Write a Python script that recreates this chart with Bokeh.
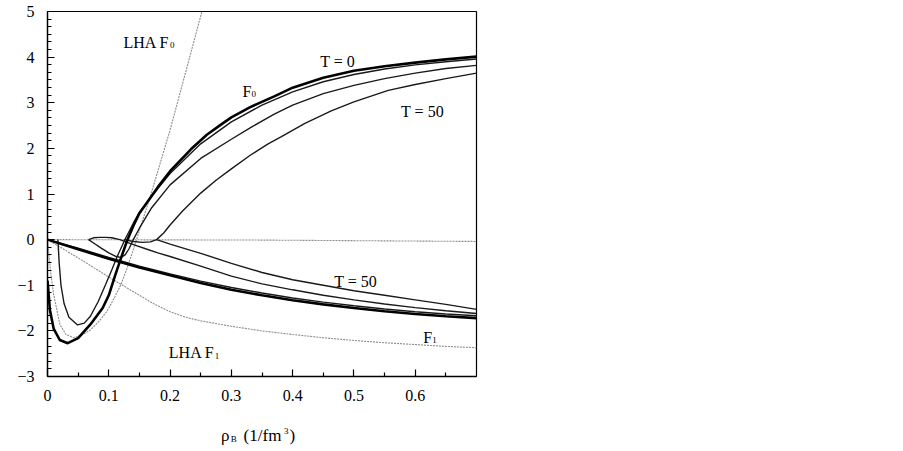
from bokeh.plotting import figure
from bokeh.models import Range1d, FixedTicker
from bokeh.layouts import column
from bokeh.core.properties import value
from bokeh.embed import file_html
from bokeh.resources import INLINE

# ---------------- data ----------------
# F0, T = 0 (thick)
rho_f0_t0 = [0.0, 0.004, 0.01, 0.02, 0.033, 0.05, 0.07, 0.09, 0.1, 0.11, 0.12, 0.13, 0.14, 0.15,
             0.18, 0.2, 0.234, 0.26, 0.283, 0.3, 0.33, 0.37, 0.4, 0.45, 0.5, 0.55, 0.6, 0.65, 0.7]
f0_t0 = [-0.9, -1.55, -1.95, -2.2, -2.27, -2.16, -1.86, -1.5, -1.22, -0.8, -0.4, -0.02, 0.3, 0.58,
         1.15, 1.5, 1.98, 2.3, 2.52, 2.68, 2.9, 3.14, 3.33, 3.55, 3.7, 3.8, 3.88, 3.95, 4.01]
# F0, second temperature
rho_f0_t2 = [0.017, 0.019, 0.022, 0.027, 0.035, 0.049, 0.06, 0.07, 0.083, 0.095, 0.105, 0.115, 0.127,
             0.14, 0.15, 0.18, 0.2, 0.25, 0.3, 0.35, 0.4, 0.45, 0.5, 0.55, 0.6, 0.65, 0.7]
f0_t2 = [0.0, -0.5, -1.0, -1.4, -1.7, -1.87, -1.83, -1.68, -1.35, -0.98, -0.66, -0.33, 0.02,
         0.36, 0.6, 1.12, 1.45, 2.1, 2.58, 2.95, 3.24, 3.46, 3.62, 3.74, 3.83, 3.9, 3.96]
# F0, third temperature (loop)
rho_f0_t3 = [0.067, 0.077, 0.087, 0.1, 0.112, 0.12, 0.127, 0.133, 0.14, 0.15, 0.17, 0.2, 0.25, 0.3,
             0.332, 0.37, 0.4, 0.45, 0.5, 0.55, 0.6, 0.65, 0.7]
f0_t3 = [0.0, -0.09, -0.18, -0.29, -0.37, -0.39, -0.33, -0.2, 0.0, 0.25, 0.7, 1.2, 1.78, 2.2,
         2.46, 2.75, 2.95, 3.2, 3.38, 3.53, 3.65, 3.75, 3.82]
# F0, T = 50
rho_f0_t50 = [0.125, 0.14, 0.155, 0.168, 0.178, 0.19, 0.2, 0.22, 0.25, 0.275, 0.3, 0.332, 0.36, 0.381,
              0.42, 0.463, 0.5, 0.556, 0.6, 0.65, 0.7]
f0_t50 = [0.0, -0.04, -0.06, -0.05, 0.0, 0.15, 0.32, 0.62, 1.02, 1.3, 1.55, 1.86, 2.1, 2.25,
          2.55, 2.82, 3.02, 3.27, 3.4, 3.53, 3.65]

# F1 curves
rho_f1_t0 = [0.0, 0.05, 0.1, 0.15, 0.2, 0.25, 0.3, 0.35, 0.4, 0.45, 0.5, 0.55, 0.6, 0.65, 0.7]
f1_t0 = [0.0, -0.21, -0.42, -0.61, -0.78, -0.95, -1.1, -1.22, -1.33, -1.42, -1.5, -1.57, -1.63, -1.68, -1.72]
rho_f1_t2 = [0.0, 0.05, 0.1, 0.15, 0.2, 0.25, 0.3, 0.35, 0.4, 0.45, 0.5, 0.55, 0.6, 0.65, 0.7]
f1_t2 = [0.0, -0.19, -0.39, -0.58, -0.75, -0.91, -1.05, -1.17, -1.28, -1.37, -1.45, -1.52, -1.58, -1.63, -1.67]
rho_f1_t3 = [0.067, 0.075, 0.085, 0.095, 0.105, 0.118, 0.13, 0.145, 0.16, 0.18, 0.2, 0.25, 0.3,
             0.35, 0.4, 0.45, 0.5, 0.55, 0.6, 0.65, 0.7]
f1_t3 = [0.0, 0.04, 0.05, 0.05, 0.04, 0.0, -0.06, -0.13, -0.2, -0.29, -0.37, -0.58, -0.8,
         -0.97, -1.1, -1.22, -1.32, -1.41, -1.49, -1.56, -1.62]
rho_f1_t50 = [0.178, 0.2, 0.25, 0.3, 0.35, 0.4, 0.45, 0.5, 0.55, 0.6, 0.65, 0.7]
f1_t50 = [0.0, -0.1, -0.3, -0.52, -0.72, -0.88, -1.0, -1.12, -1.22, -1.32, -1.42, -1.53]

# LHA (gray) curves
rho_lha_f0 = [0.0, 0.005, 0.01, 0.02, 0.03, 0.043, 0.055, 0.07, 0.085, 0.098, 0.11, 0.12, 0.13, 0.14,
              0.15, 0.17, 0.2, 0.23, 0.26]
lha_f0 = [0.0, -0.7, -1.2, -1.85, -2.08, -2.15, -2.1, -1.98, -1.78, -1.55, -1.25, -0.98, -0.62, -0.22,
          0.2, 1.05, 2.4, 3.9, 5.4]
rho_lha_f1 = [0.0, 0.05, 0.1, 0.15, 0.175, 0.2, 0.225, 0.25, 0.3, 0.35, 0.4, 0.45, 0.5, 0.55, 0.6, 0.65, 0.7]
lha_f1 = [0.0, -0.4, -0.82, -1.22, -1.42, -1.58, -1.7, -1.78, -1.9, -2.0, -2.08, -2.15, -2.21, -2.26,
          -2.3, -2.34, -2.37]
rho_zero = [0.0, 0.35, 0.7]
zero_line = [0.0, -0.01, -0.04]

# ticks
x_ticks = [0.0, 0.1, 0.2, 0.3, 0.4, 0.5, 0.6]
x_tick_labels = ["0", "0.1", "0.2", "0.3", "0.4", "0.5", "0.6"]
x_minor = [0.05, 0.15, 0.25, 0.35, 0.45, 0.55, 0.65]
y_ticks = [-3, -2, -1, 0, 1, 2, 3, 4, 5]

# annotation texts
label_x = [0.124, 0.318, 0.445, 0.577, 0.468, 0.613, 0.198]
label_y = [4.33, 3.25, 3.91, 2.81, -0.92, -2.15, -2.48]
label_text = ["LHA F", "F", "T = 0", "T = 50", "T = 50", "F", "LHA F"]
sub_x = [0.200, 0.333, 0.628, 0.273]
sub_y = [4.27, 3.19, -2.21, -2.54]
sub_text = ["0", "0", "1", "1"]

# x-axis title pieces: rho_B (1/fm^3)
title_x = [0.283, 0.320, 0.395]
title_text = ["ρ", "(1/fm", ")"]
title_small_x = [0.299, 0.386]
title_small_y = [9.0, 17.0]
title_small_text = ["B", "3"]

FONT = "Liberation Serif"
LEFT, RIGHT = 47, 12
W = 488

p = figure(width=W, height=411, output_backend="svg", toolbar_location=None,
           x_range=Range1d(0, 0.7), y_range=Range1d(-3, 5),
           min_border_left=LEFT, min_border_top=11, min_border_right=RIGHT, min_border_bottom=35)
p.xgrid.visible = False
p.ygrid.visible = False
p.background_fill_color = "white"
p.border_fill_color = "white"
p.outline_line_color = "black"
p.outline_line_width = 1.2

gray = "#8c8c8c"
p.line(rho_zero, zero_line, line_color=gray, line_width=1.1, line_dash="2 1")
p.line(rho_lha_f0, lha_f0, line_color=gray, line_width=1.1, line_dash="2 1")
p.line(rho_lha_f1, lha_f1, line_color=gray, line_width=1.1, line_dash="2 1")

thin = "#1a1a1a"
for xs, ys in [(rho_f0_t2, f0_t2), (rho_f0_t3, f0_t3), (rho_f0_t50, f0_t50),
               (rho_f1_t2, f1_t2), (rho_f1_t3, f1_t3), (rho_f1_t50, f1_t50)]:
    p.line(xs, ys, line_color=thin, line_width=1.4)
p.line(rho_f0_t0, f0_t0, line_color="black", line_width=2.6)
p.line(rho_f1_t0, f1_t0, line_color="black", line_width=2.6)

p.text(x=label_x, y=label_y, text=label_text, text_font=value(FONT), text_font_size=value("16px"),
       text_color="black", text_baseline="alphabetic", text_align="left")
p.text(x=sub_x, y=sub_y, text=sub_text, text_font=value(FONT), text_font_size=value("9px"),
       text_color="black", text_baseline="alphabetic", text_align="left")

# axes
for ax in (p.xaxis[0], p.yaxis[0]):
    ax.axis_line_color = "black"
    ax.axis_line_width = 1.3
    ax.major_tick_in = 7
    ax.major_tick_out = 0
    ax.minor_tick_in = 4
    ax.minor_tick_out = 0
    ax.major_tick_line_color = "black"
    ax.minor_tick_line_color = "black"
    ax.major_tick_line_width = 1.2
    ax.minor_tick_line_width = 1.2
    ax.major_label_text_font = FONT
    ax.major_label_text_font_size = "16px"
    ax.major_label_text_color = "black"
    ax.major_label_standoff = 13

p.xaxis[0].ticker = FixedTicker(ticks=x_ticks, minor_ticks=x_minor)
p.xaxis[0].major_label_overrides = {t: s for t, s in zip(x_ticks, x_tick_labels)}
y_minor = [y0 + k / 6 for y0 in y_ticks[:-1] for k in range(1, 6)]
p.yaxis[0].ticker = FixedTicker(ticks=y_ticks, minor_ticks=y_minor)

# strip below the plot holding the x-axis title (same horizontal frame as p)
p2 = figure(width=W, height=36, output_backend="svg", toolbar_location=None,
            x_range=p.x_range, y_range=Range1d(0, 36),
            min_border_left=LEFT, min_border_right=RIGHT, min_border_top=0, min_border_bottom=0)
p2.axis.visible = False
p2.xgrid.visible = False
p2.ygrid.visible = False
p2.outline_line_color = None
p2.background_fill_color = "white"
p2.border_fill_color = "white"
p2.text(x=title_x, y=[12.0] * len(title_x), text=title_text, text_font=value(FONT),
        text_font_size=value("17px"), text_color="black", text_baseline="alphabetic")
p2.text(x=title_small_x, y=title_small_y, text=title_small_text, text_font=value(FONT),
        text_font_size=value("9px"), text_color="black", text_baseline="alphabetic")

layout = column(p, p2, spacing=0)
open("out.html", "w").write(file_html(layout, INLINE))
